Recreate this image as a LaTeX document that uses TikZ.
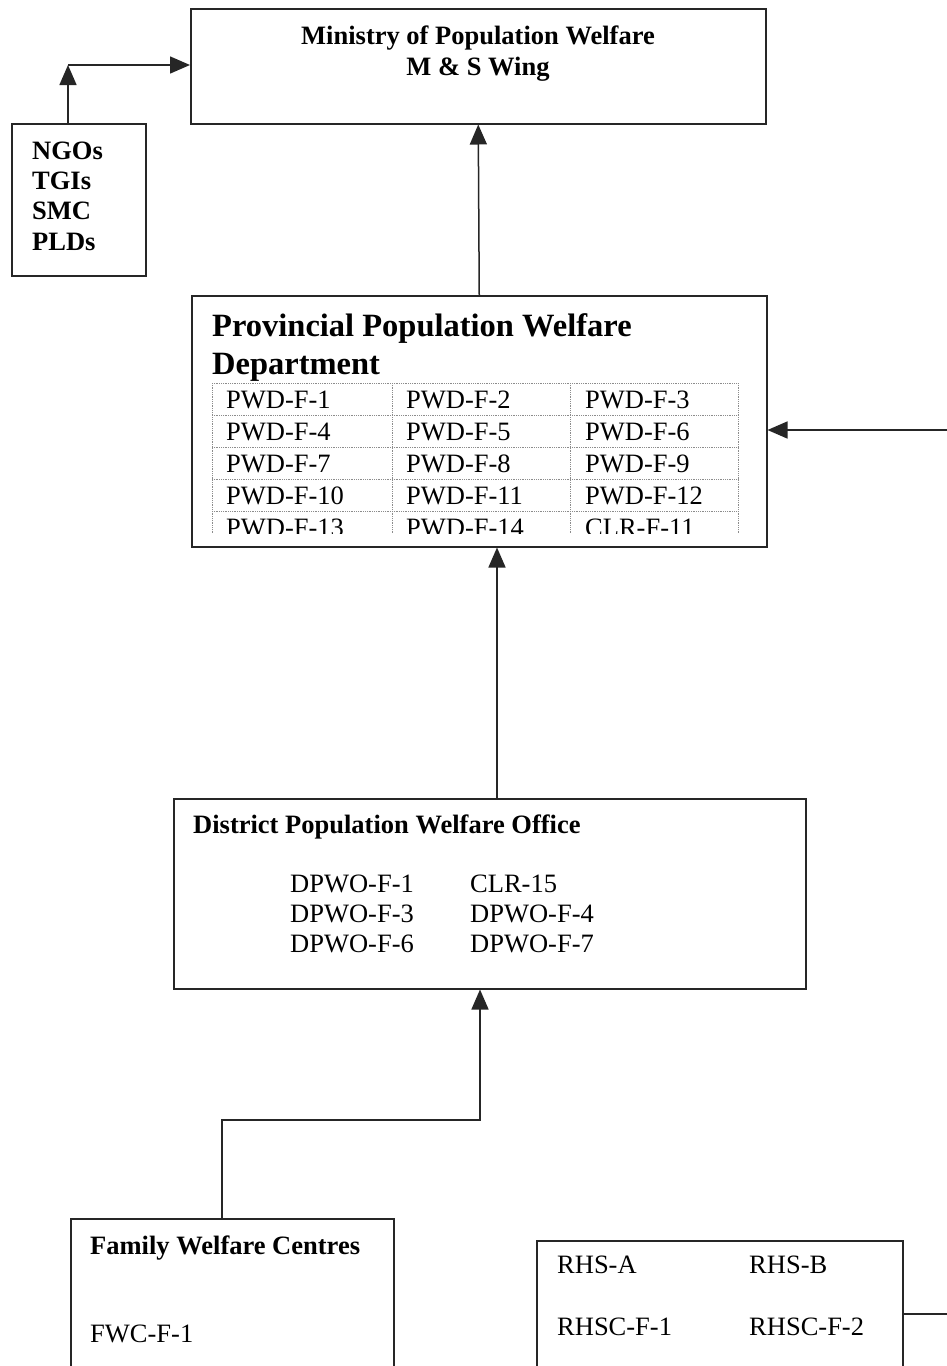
\documentclass[tikz,border=0pt]{standalone}
\usepackage{fontspec}
\setmainfont{Liberation Serif}
\usetikzlibrary{arrows.meta}
\begin{document}
\begin{tikzpicture}[x=1pt,y=-1pt,
  box/.style={draw=black!85, line width=1.5pt, inner sep=0pt, anchor=north west},
  txt/.style={inner sep=0pt, anchor=base west, font=\fontsize{26.5}{30}\selectfont},
  btxt/.style={inner sep=0pt, anchor=base west, font=\fontsize{26.5}{30}\selectfont\bfseries},
  ttl/.style={inner sep=0pt, anchor=base west, font=\fontsize{32.5}{38}\selectfont\bfseries},
  arr/.style={draw=black!85, line width=1.5pt, -{Triangle[length=20pt,width=17pt]}},
  ln/.style={draw=black!85, line width=1.5pt},
  grid/.style={draw=black!45, line width=0.8pt, densely dotted}]
\clip (0,0) rectangle (947,1366);
\useasboundingbox (0,0) rectangle (947,1366);
\fill[white] (0,0) rectangle (947,1366);

% Ministry
\node[box, minimum width=575pt, minimum height=115pt] (min) at (190,8) {};
\node[inner sep=0pt, anchor=base, font=\fontsize{26.5}{30}\selectfont\bfseries] (min1) at (478,44) {Ministry of Population Welfare};
\node[inner sep=0pt, anchor=base, font=\fontsize{26.5}{30}\selectfont\bfseries] (min2) at (478,75) {M \& S Wing};

% NGOs
\node[box, minimum width=134pt, minimum height=152pt] (ngo) at (11,123) {};
\node[btxt] (n1) at (32,159) {NGOs};
\node[btxt] (n2) at (32,189) {TGIs};
\node[btxt] (n3) at (32,219) {SMC};
\node[btxt] (n4) at (32,250) {PLDs};

% Provincial
\node[box, minimum width=575pt, minimum height=251pt] (prov) at (191,295) {};
\node[ttl] (p1) at (212,336) {Provincial Population Welfare};
\node[ttl] (p2) at (212,374) {Department};
\begin{scope}
\clip (205,380) rectangle (745,533);
\foreach \y in {383,415,447,479,511} \draw[grid] (212,\y) -- (738,\y);
\foreach \x in {212,392,570,738} \draw[grid] (\x,383) -- (\x,540);
\node[txt] (t1) at (226,408) {PWD-F-1};
\node[txt] (t2) at (406,408) {PWD-F-2};
\node[txt] (t3) at (585,408) {PWD-F-3};
\node[txt] (t4) at (226,440) {PWD-F-4};
\node[txt] (t5) at (406,440) {PWD-F-5};
\node[txt] (t6) at (585,440) {PWD-F-6};
\node[txt] (t7) at (226,472) {PWD-F-7};
\node[txt] (t8) at (406,472) {PWD-F-8};
\node[txt] (t9) at (585,472) {PWD-F-9};
\node[txt] (t10) at (226,504) {PWD-F-10};
\node[txt] (t11) at (406,504) {PWD-F-11};
\node[txt] (t12) at (585,504) {PWD-F-12};
\node[txt] (t13) at (226,536) {PWD-F-13};
\node[txt] (t14) at (406,536) {PWD-F-14};
\node[txt] (t15) at (585,536) {CLR-F-11};
\end{scope}

% District
\node[box, minimum width=632pt, minimum height=190pt] (dist) at (173,798) {};
\node[btxt] (d0) at (193,833) {District Population Welfare Office};
\node[txt] (d1) at (290,892) {DPWO-F-1};
\node[txt] (d2) at (470,892) {CLR-15};
\node[txt] (d3) at (290,922) {DPWO-F-3};
\node[txt] (d4) at (470,922) {DPWO-F-4};
\node[txt] (d5) at (290,952) {DPWO-F-6};
\node[txt] (d6) at (470,952) {DPWO-F-7};

% FWC
\node[box, minimum width=323pt, minimum height=200pt] (fwc) at (70,1218) {};
\node[btxt] (f0) at (90,1254) {Family Welfare Centres};
\node[txt] (f1t) at (90,1342) {FWC-F-1};

% RHS
\node[box, minimum width=366pt, minimum height=200pt] (rhs) at (536,1240) {};
\node[txt] (r1t) at (557,1273) {RHS-A};
\node[txt] (r2t) at (749,1273) {RHS-B};
\node[txt] (r3t) at (557,1335) {RHSC-F-1};
\node[txt] (r4t) at (749,1335) {RHSC-F-2};

% connectors
\coordinate (bend) at (68,65);
\draw[arr] (bend |- ngo.north) -- (bend);
\draw[arr] (bend) -- (bend -| min.west);
\draw[arr] (prov.north) -- (min.south);
\coordinate (c1) at (497,0);
\draw[arr] (c1 |- dist.north) -- (c1 |- prov.south);
\coordinate (rin) at (947,430);
\draw[arr] (rin) -- (rin -| prov.east);
\coordinate (fa) at (222,1120);
\coordinate (fb) at (480,1120);
\draw[arr] (fa |- fwc.north) -- (fa) -- (fb) -- (fb |- dist.south);
\coordinate (rout) at (947,1314);
\draw[ln] (rout -| rhs.east) -- (rout);
\end{tikzpicture}
\end{document}
